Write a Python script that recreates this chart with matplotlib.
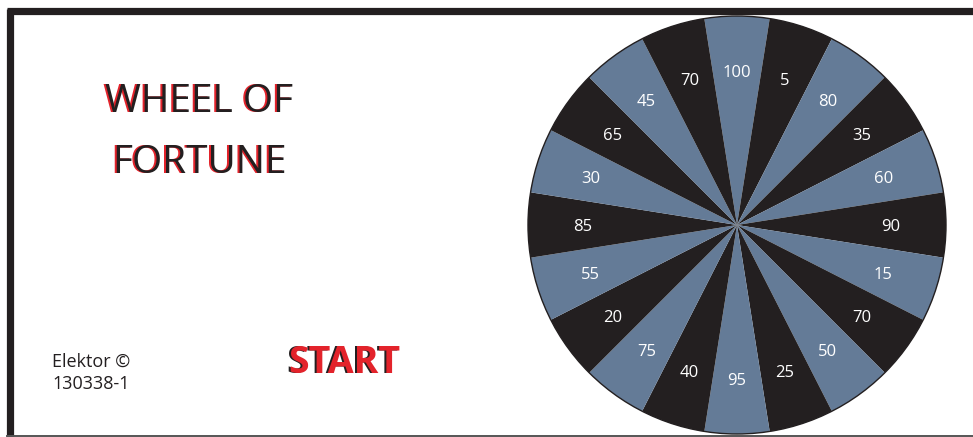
import numpy as np
import matplotlib
matplotlib.use("Agg")
import matplotlib.pyplot as plt

# wheel values, clockwise from the top segment
values = [100, 5, 80, 35, 60, 90, 15, 70, 50, 25,
          95, 40, 75, 20, 55, 85, 30, 65, 45, 70]
labels = [str(v) for v in values]
seg_colors = ["#647b97", "#231f20"] * (len(values) // 2)

title_lines = ["WHEEL OF", "FORTUNE"]
start_text = "START"
credit_lines = ["Elektor \u00a9", "130338-1"]

W, H = 973, 437
RED = "#e3232b"
INK = "#231f20"

fig = plt.figure(figsize=(W / 100, H / 100), dpi=100)
ax = fig.add_axes([0, 0, 1, 1])
ax.set_xlim(0, W)
ax.set_ylim(0, H)
ax.set_aspect("equal")
ax.axis("off")

def py(y):
    # pixel row (from top) -> data y
    return H - y

# frame
ax.plot([7, W], [py(11), py(11)], color=INK, lw=5.2, solid_capstyle="butt")
ax.plot([10, 10], [py(8.5), py(H)], color=INK, lw=5.2, solid_capstyle="butt")
ax.plot([7, W], [py(435.5), py(435.5)], color="#555555", lw=1.4)

# wheel: equal slices, clockwise, first slice centred at top
n = len(values)
cx, cy, r = 737, 225, 209
ax.pie([1] * n, labels=labels, colors=seg_colors, radius=r,
       center=(cx, py(cy)), startangle=90 + 180 / n, counterclock=False,
       labeldistance=154 / r,
       wedgeprops=dict(linewidth=0),
       textprops=dict(color="white", fontsize=12, family="Open Sans",
                      ha="center", va="center_baseline"))
circle = plt.Circle((cx, py(cy)), r, fill=False, ec=INK, lw=1.0)
ax.add_patch(circle)
ax.set_xlim(0, W)
ax.set_ylim(0, H)

# title with red shadow
for i, line in enumerate(title_lines):
    y = py(102 + i * 61)
    ax.text(199 - 2, y, line, color=RED, fontsize=28, family="Open Sans",
            ha="center", va="center")
    ax.text(199, y, line, color=INK, fontsize=28, family="Open Sans",
            ha="center", va="center")

# START with dark shadow
ax.text(344 - 2, py(363), start_text, color=INK, fontsize=27,
        family="Open Sans", weight="bold", ha="center", va="center")
ax.text(344, py(363), start_text, color=RED, fontsize=27,
        family="Open Sans", weight="bold", ha="center", va="center")

# credit
for i, line in enumerate(credit_lines):
    ax.text(52, py(362 + i * 22), line, color=INK, fontsize=13,
            family="Open Sans", ha="left", va="center")

fig.savefig("out.png", dpi=100)
